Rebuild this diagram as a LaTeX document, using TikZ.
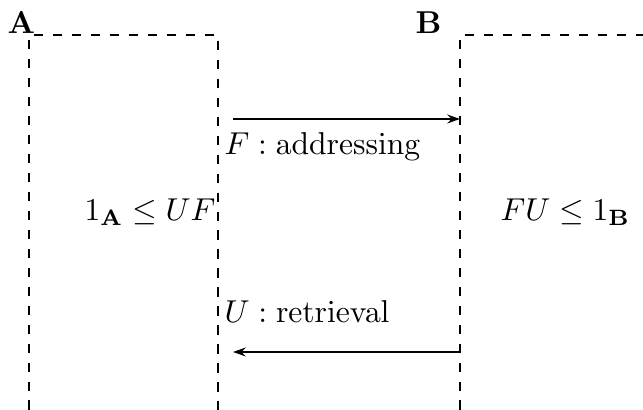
\documentclass[tikz,border=0pt]{standalone}
\usetikzlibrary{arrows.meta}
\begin{document}
\begin{tikzpicture}[x=0.316pt,y=-0.316pt,
  boxline/.style={line width=0.85pt, dashed},
  mapline/.style={line width=0.65pt, -{Stealth[length=4pt,width=2.8pt]}},
  lbl/.style={anchor=base west, inner sep=0pt}]
\useasboundingbox (0,0) rectangle (643,410);
% boxes
\coordinate (A1) at (29,410);
\coordinate (A2) at (29,35);
\coordinate (A3) at (218,35);
\coordinate (A4) at (218,410);
\coordinate (B1) at (460,410);
\coordinate (B2) at (460,35);
\coordinate (B3) at (643,35);
\draw[boxline] (A1) -- (A2) -- (A3) -- (A4);
\draw[boxline] (B1) -- (B2) -- (B3);
% labels
\node[lbl] (labA) at (7,34) {$\mathbf{A}$};
\node[lbl] (labB) at (415,34) {$\mathbf{B}$};
% arrows
\coordinate (f0) at (233,119);
\coordinate (f1) at (460,119);
\coordinate (u0) at (460,352);
\coordinate (u1) at (233,352);
\draw[mapline] (f0) -- (f1);
\draw[mapline] (u0) -- (u1);
\node[lbl] (fl) at (224,155) {$F : \mathrm{addressing}$};
\node[lbl] (ul) at (224,323) {$U : \mathrm{retrieval}$};
\node[lbl] (ia) at (84,221) {$1_{\mathbf{A}} \leq UF$};
\node[lbl] (ib) at (500,221) {$FU \leq 1_{\mathbf{B}}$};
\end{tikzpicture}
\end{document}
